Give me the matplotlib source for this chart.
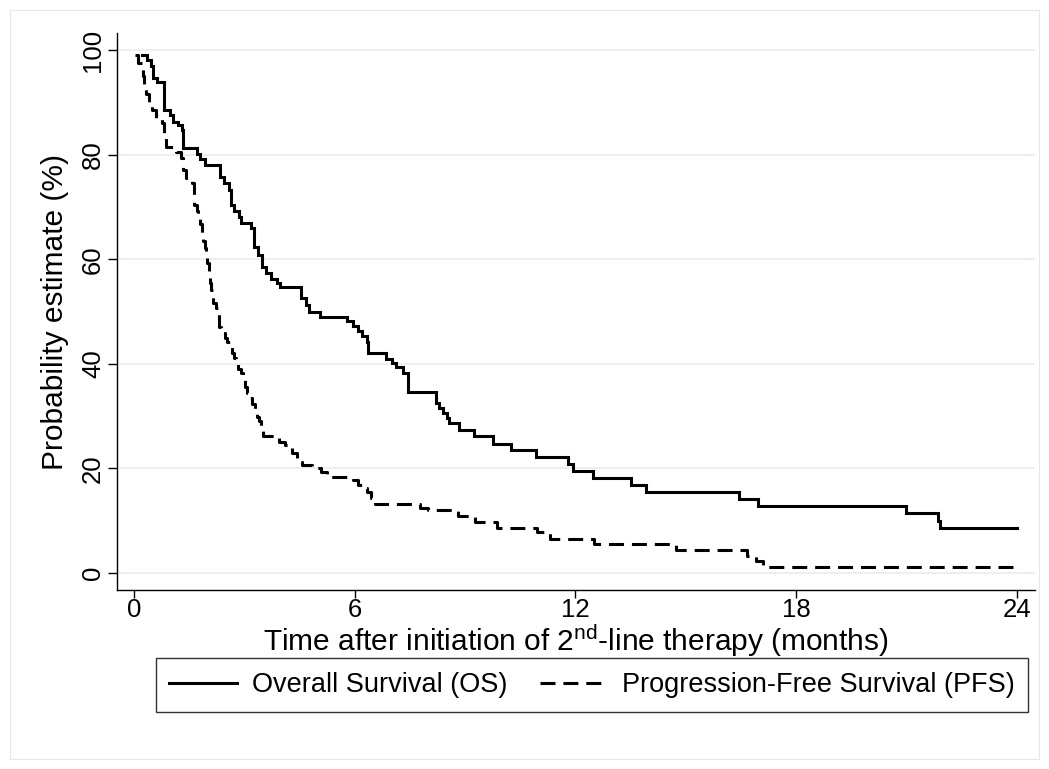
import matplotlib
matplotlib.use("Agg")
import matplotlib.pyplot as plt
from matplotlib.lines import Line2D
from matplotlib.patches import Rectangle

plt.rcParams['font.family'] = ['Liberation Sans', 'DejaVu Sans']
plt.rcParams['mathtext.fontset'] = 'custom'
plt.rcParams['mathtext.rm'] = 'Liberation Sans'
plt.rcParams['mathtext.it'] = 'Liberation Sans'

# ---------------- data (Kaplan-Meier step estimates, %) ----------------
os_time = [0.22, 0.35, 0.45, 0.53, 0.62, 0.82, 0.98, 1.07, 1.20, 1.30, 1.34,
           1.72, 1.80, 1.92, 2.34, 2.45, 2.58, 2.63, 2.72, 2.85, 2.92, 3.18,
           3.26, 3.38, 3.48, 3.58, 3.72, 3.88, 3.96, 4.53, 4.67, 4.77, 5.05,
           5.80, 5.95, 6.10, 6.20, 6.32, 6.36, 6.86, 7.00, 7.12, 7.30, 7.45,
           8.22, 8.30, 8.40, 8.50, 8.57, 8.84, 9.25, 9.76, 10.24, 10.94,
           11.80, 11.94, 12.48, 13.50, 13.93, 16.44, 16.95, 20.98, 21.85,
           21.90, 24.00]
os_surv = [99.0, 98.0, 97.0, 94.6, 93.8, 88.5, 87.6, 86.3, 85.7, 84.7, 81.3,
           80.1, 79.1, 78.0, 75.8, 74.5, 73.2, 70.4, 69.2, 68.1, 66.9, 65.9,
           62.4, 60.8, 58.6, 57.3, 56.3, 55.4, 54.6, 52.5, 51.3, 50.0, 49.0,
           48.2, 47.2, 46.3, 45.3, 44.2, 42.0, 41.0, 40.2, 39.4, 38.3, 34.7,
           32.5, 31.5, 30.5, 29.6, 28.6, 27.3, 26.1, 24.7, 23.5, 22.2,
           20.9, 19.5, 18.2, 16.8, 15.5, 14.1, 12.9, 11.4, 10.0,
           8.6, 8.6]

pfs_time = [0.03, 0.10, 0.25, 0.28, 0.32, 0.42, 0.50, 0.60, 0.75, 0.82, 0.88,
            1.15, 1.28, 1.34, 1.42, 1.58, 1.64, 1.70, 1.75, 1.80, 1.84, 1.88,
            1.92, 1.96, 1.99, 2.03, 2.06, 2.10, 2.16, 2.22, 2.28, 2.30, 2.36,
            2.47, 2.54, 2.60, 2.66, 2.72, 2.78, 2.84, 2.90, 2.96, 3.02, 3.08,
            3.15, 3.22, 3.28, 3.33, 3.40, 3.46, 3.51, 3.93, 4.10, 4.30, 4.42,
            4.56, 4.85, 5.08, 5.25, 5.96, 6.10, 6.20, 6.32, 6.45, 6.55, 7.77,
            8.00, 8.80, 9.28, 9.88, 10.95, 11.30, 12.50, 14.73, 16.65, 16.90,
            17.10, 24.00]
pfs_surv = [99.0, 97.5, 95.0, 93.0, 91.5, 90.0, 88.5, 87.0, 86.0, 83.5, 81.5,
            80.5, 79.3, 77.0, 75.5, 74.5, 70.4, 69.2, 67.9, 66.7, 65.0, 63.4,
            62.2, 60.5, 59.2, 57.0, 55.4, 54.1, 51.6, 50.6, 49.7, 47.1, 45.8,
            45.0, 44.2, 43.3, 42.0, 41.2, 40.4, 39.1, 38.2, 37.2, 35.6, 34.4,
            33.5, 32.3, 31.2, 29.9, 29.0, 28.0, 26.2, 25.1, 24.4, 22.9, 21.3,
            20.7, 20.1, 19.3, 18.4, 17.8, 16.8, 16.2, 15.5, 14.4, 13.1, 12.4,
            12.0, 10.9, 9.8, 8.7, 7.8, 6.5, 5.5, 4.4, 3.3, 2.2,
            1.1, 1.1]

x_ticks = [0, 6, 12, 18, 24]
y_ticks = [0, 20, 40, 60, 80, 100]
x_label = "Time after initiation of 2$^{\\mathrm{nd}}$-line therapy (months)"
y_label = "Probability estimate (%)"
series_labels = ["Overall Survival (OS)", "Progression-Free Survival (PFS)"]

# ---------------- figure ----------------
W, H = 1049, 769
fig = plt.figure(figsize=(W / 100, H / 100), dpi=100)
fig.patch.set_facecolor('white')

# faint outer frame
fig.add_artist(Rectangle((10 / W, 10 / H), 1 - 20 / W, 1 - 20 / H,
                         transform=fig.transFigure, fill=False,
                         edgecolor='#e6e6e6', lw=0.8))

ax_left, ax_right, ax_top, ax_bot = 117, 1035, 33, 590
ax = fig.add_axes([ax_left / W, 1 - ax_bot / H,
                   (ax_right - ax_left) / W, (ax_bot - ax_top) / H])
ax.set_xlim(-0.462, 24.49)
ax.set_ylim(-3.25, 103.25)

grid_c = '#e9f0f3'
for yv in y_ticks:
    ax.axhline(yv, color=grid_c, lw=1.4, zorder=0)

lw = 2.2
dash = (0, (4.9, 2.6))
ax.plot(os_time, os_surv, drawstyle='steps-post', color='black', lw=lw,
        solid_joinstyle='miter', zorder=3)
ax.plot(pfs_time, pfs_surv, drawstyle='steps-post', color='black', lw=lw,
        linestyle=dash, zorder=3)

for s in ['top', 'right']:
    ax.spines[s].set_visible(False)
for s in ['left', 'bottom']:
    ax.spines[s].set_linewidth(1.0)
    ax.spines[s].set_color('black')

ax.set_xticks(x_ticks)
ax.set_yticks(y_ticks)
ax.tick_params(axis='both', direction='out', length=6.5, width=1.0,
               labelsize=18.5, colors='black')
ax.tick_params(axis='x', length=5.5, pad=0)
ax.tick_params(axis='y', pad=2)
for lab in ax.get_yticklabels():
    lab.set_rotation(90)
    lab.set_va('center')

ax_w = ax_right - ax_left
ax_h = ax_bot - ax_top
xl = ax.set_xlabel(x_label, fontsize=21.5)
xl.set_va('center')
ax.xaxis.set_label_coords(0.5, (ax_bot - 641) / ax_h)
yl = ax.set_ylabel(y_label, fontsize=21.5)
yl.set_va('center')
ax.yaxis.set_label_coords((55 - ax_left) / ax_w, 0.5)

handles = [Line2D([], [], color='black', lw=lw),
           Line2D([], [], color='black', lw=lw, linestyle=dash)]
leg = fig.legend(handles, series_labels, loc='center',
                 bbox_to_anchor=(592 / W, 1 - 685 / H), ncol=2,
                 fontsize=19.5, frameon=True, fancybox=False,
                 edgecolor='black', handlelength=2.5, handletextpad=0.55,
                 columnspacing=1.2, borderpad=0.5)
leg.get_frame().set_linewidth(1.0)

fig.savefig('out.png', dpi=100, facecolor='white')
